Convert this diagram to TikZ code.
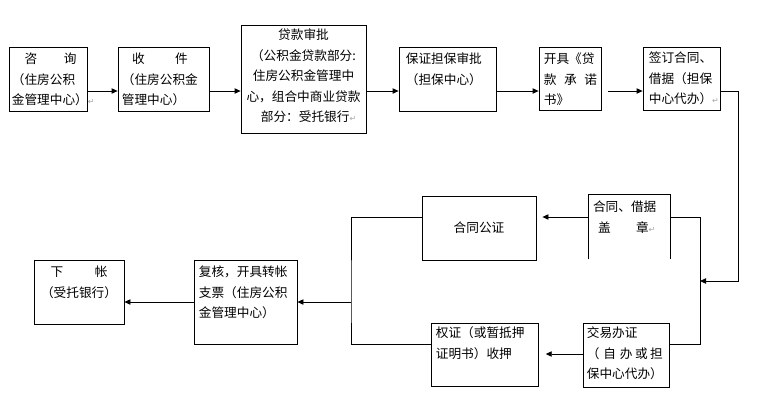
\documentclass[tikz,border=0pt]{standalone}
\usepackage{fontspec}
\setmainfont{Noto Sans CJK SC}
\newfontfamily\retfont{DejaVu Sans}
\usepackage{tikz}
\usetikzlibrary{arrows.meta,calc,fit}
\newcommand{\pmark}{{\retfont\fontsize{6pt}{6pt}\selectfont\color{gray!70}↵}}

\begin{document}
\begin{tikzpicture}[x=0.75pt, y=-0.75pt,
    box/.style={rectangle, draw, line width=0.6pt, inner sep=0pt},
    openbox/.style={rectangle, inner sep=0pt},
    txt/.style={inner sep=0pt, anchor=north west, align=left, font=\fontsize{9.5pt}{15.4pt}\selectfont},
    ctxt/.style={txt, anchor=north, align=center},
    arrow/.style={-{Triangle[length=4.5pt,width=4pt]}, line width=0.6pt},
    line/.style={line width=0.6pt}
]
    \useasboundingbox (0,0) rectangle (770,419);

    % Top row
    \node[box, fit={(9,47) (87,111)}] (zixun) {};
    \node[box, fit={(118,47) (209,111)}] (shoujian) {};
    \node[box, fit={(241,25) (366,133)}] (shenpi) {};
    \node[box, fit={(399,47) (496,111)}] (danbao) {};
    \node[box, fit={(539,47) (601,110)}] (chengnuo) {};
    \node[box, fit={(643,47) (720,110)}] (qianding) {};

    \node[txt] (zixunT) at ($(zixun.north west)+(3,6)$) {\hspace{1em}咨\hspace{2.1em}询\\（住房公积\\金管理中心）\pmark};
    \node[txt] (shoujianT) at ($(shoujian.north west)+(4,6)$) {\hspace{0.8em}收\hspace{2.4em}件\\（住房公积金\\管理中心）};
    \node[ctxt] (shenpiT) at ($(shenpi.north)+(0,4)$) {贷款审批\\（公积金贷款部分:\\住房公积金管理中\\心，组合中商业贷款\\\hspace{0.8em}部分：受托银行\pmark};
    \node[txt] (danbaoT) at ($(danbao.north west)+(7,6)$) {保证担保审批\\（担保中心）};
    \node[txt] (chengnuoT) at ($(chengnuo.north west)+(5,6)$) {开具《贷\\款\hspace{0.6em}承\hspace{0.6em}诺\\书》};
    \node[txt] (qiandingT) at ($(qianding.north west)+(6,5)$) {签订合同、\\借据（担保\\中心代办）\pmark};

    % Middle and bottom rows
    \node[openbox, fit={(589,195) (670,259)}] (gaizhang) {};
    \node[box, fit={(422,196) (536,260)}] (gongzheng) {};
    \node[box, fit={(583,323) (669,387)}] (jiaoyi) {};
    \node[box, fit={(431,323) (538,386)}] (quanzheng) {};
    \node[box, fit={(194,260) (297,344)}] (fuhe) {};
    \node[box, fit={(34,260) (124,324)}] (xiazhang) {};
    \draw[line] (gaizhang.south west) -- (gaizhang.north west) -- (gaizhang.north east) -- (gaizhang.south east);

    \node[txt] (gaizhangT) at ($(gaizhang.north west)+(4,6)$) {合同、借据\\\hspace{0.4em}盖\hspace{2em}章\pmark};
    \node[font=\fontsize{9.5pt}{15.4pt}\selectfont] (gongzhengT) at (gongzheng) {合同公证};
    \node[txt] (jiaoyiT) at ($(jiaoyi.north west)+(4,4)$) {交易办证\\（\hspace{0.3em}自\hspace{0.3em}办\hspace{0.2em}或\hspace{0.2em}担\\保中心代办）};
    \node[txt] (quanzhengT) at ($(quanzheng.north west)+(5,4)$) {权证（或暂抵押\\证明书）收押};
    \node[txt] (fuheT) at ($(fuhe.north west)+(5,6)$) {复核，开具转帐\\支票（住房公积\\金管理中心）};
    \node[ctxt] (xiazhangT) at ($(xiazhang.north)+(0,6)$) {下\hspace{2.5em}帐\\（受托银行）};

    % Rows for connectors
    \coordinate (rowA) at (0,91);
    \coordinate (rowB) at (0,217);
    \coordinate (rowD) at (0,344);
    \coordinate (rowE) at (0,354);
    \coordinate (edgeR) at (738,0);
    \coordinate (split) at (700,281);
    \coordinate (join) at (351,302);

    % Arrows
    \draw[arrow] (zixun.east |- rowA) -- (shoujian.west |- rowA);
    \draw[arrow] (shoujian.east |- rowA) -- (shenpi.west |- rowA);
    \draw[arrow] (shenpi.east |- rowA) -- (danbao.west |- rowA);
    \draw[arrow] (danbao.east |- rowA) -- (chengnuo.west |- rowA);
    \draw[arrow, shorten <=5pt] (chengnuo.east |- rowA) -- (qianding.west |- rowA);
    \draw[arrow] (qianding.east |- rowA) -| (edgeR |- split) -- (split);
    \draw[line] (gaizhang.east |- rowB) -| (split |- rowD) -- (jiaoyi.east |- rowD);
    \draw[arrow, shorten >=4.5pt] (gaizhang.west |- rowB) -- (gongzheng.east |- rowB);
    \draw[line] (gongzheng.west |- rowB) -| (join) |- (quanzheng.west |- rowD);
    \draw[arrow, shorten >=5.5pt] (jiaoyi.west |- rowE) -- (quanzheng.east |- rowE);
    \draw[arrow] (join) -- (fuhe.east |- join);
    \draw[arrow] (fuhe.west |- join) -- (xiazhang.east |- join);
\end{tikzpicture}
\end{document}
